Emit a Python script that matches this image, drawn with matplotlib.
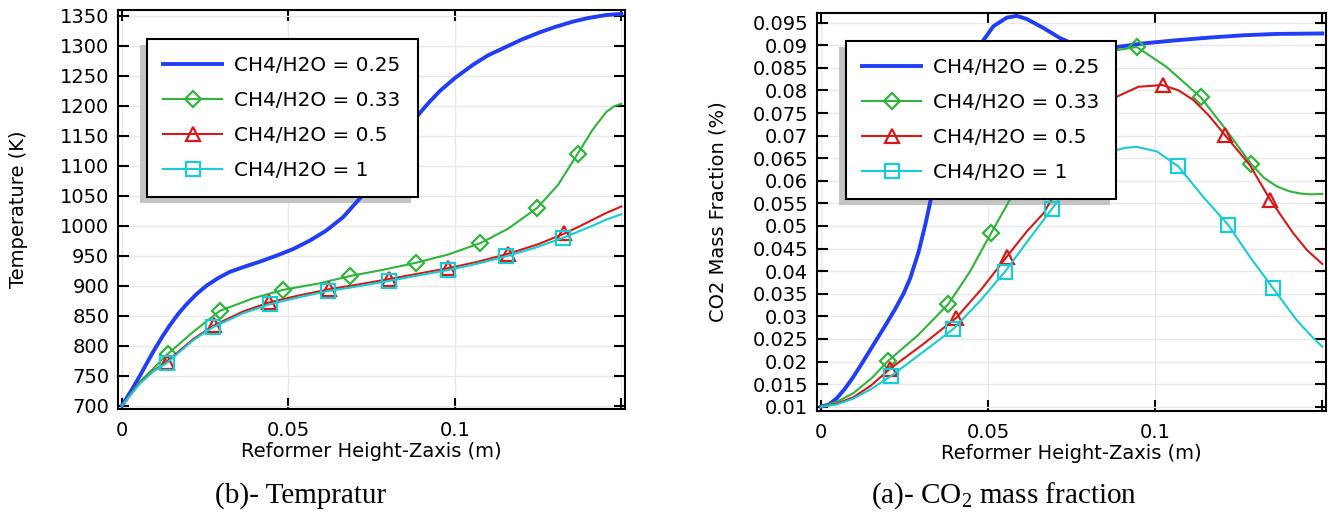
import matplotlib
matplotlib.use("Agg")
import matplotlib.pyplot as plt
from matplotlib.lines import Line2D
from matplotlib.patches import Rectangle

plt.rcParams["font.family"] = "DejaVu Sans"
plt.rcParams["font.size"] = 14
plt.rcParams["mathtext.fontset"] = "custom"
plt.rcParams["mathtext.rm"] = "Liberation Serif"

labels = ["CH4/H2O = 0.25", "CH4/H2O = 0.33", "CH4/H2O = 0.5", "CH4/H2O = 1"]
colors = ["#1f3ef5", "#2fb53b", "#d81818", "#17cdd3"]
markers = [None, "D", "^", "s"]
msizes = [0, 8, 10, 10.5]
lwidths = [2.8, 1.5, 1.5, 1.5]

# ---- temperature along the reformer (K) ----
t_x_025 = [0, 0.003, 0.0054, 0.0075, 0.0094, 0.012, 0.0144, 0.0169, 0.0194, 0.0224, 0.0254,
           0.029, 0.0324, 0.037, 0.0414, 0.0464, 0.0514, 0.0564, 0.0614, 0.0664, 0.0714,
           0.076, 0.081, 0.0855, 0.0889, 0.092, 0.0954, 0.1, 0.1054, 0.11, 0.1154, 0.12,
           0.1254, 0.13, 0.1354, 0.14, 0.1454, 0.15]
t_y_025 = [700, 727, 750, 771, 790, 814, 834, 853, 869, 886, 900,
           913, 923, 932, 940, 950, 961, 975, 992, 1014, 1045,
           1080, 1120, 1155, 1184, 1204, 1224, 1246, 1268, 1284, 1298, 1310,
           1322, 1331, 1340, 1346, 1351, 1353]

t_x_033 = [0, 0.0054, 0.0094, 0.0137, 0.0214, 0.0294, 0.0394, 0.0484, 0.0594, 0.0684, 0.078,
           0.0882, 0.098, 0.1077, 0.116, 0.1248, 0.131, 0.1369, 0.1414, 0.1454, 0.1478, 0.15]
t_y_033 = [700, 740, 762, 786, 823, 858, 879, 893, 904, 916, 926,
           938, 952, 971, 995, 1030, 1068, 1120, 1160, 1189, 1199, 1203]
t_m_033 = [0.0137, 0.0294, 0.0484, 0.0684, 0.0882, 0.1077, 0.1248, 0.1369]

t_x_05 = [0, 0.0054, 0.0094, 0.0134, 0.0214, 0.0277, 0.0364, 0.0442, 0.0534, 0.0622, 0.071,
          0.0802, 0.089, 0.0979, 0.107, 0.1159, 0.125, 0.1329, 0.1375, 0.1414, 0.1454, 0.15]
t_y_05 = [700, 738, 758, 773, 811, 834, 857, 872, 884, 894, 902,
          911, 920, 929, 940, 953, 969, 987, 999, 1010, 1021, 1032]
t_m_05 = [0.0134, 0.0277, 0.0442, 0.0622, 0.0802, 0.0979, 0.1159, 0.1329]

t_x_1 = [0, 0.0054, 0.0094, 0.0134, 0.0214, 0.0274, 0.0364, 0.0444, 0.0534, 0.0619, 0.071,
         0.0802, 0.089, 0.0979, 0.107, 0.1154, 0.124, 0.1326, 0.137, 0.1414, 0.1454, 0.15]
t_y_1 = [700, 737, 757, 771, 809, 831, 854, 869, 881, 891, 899,
         908, 917, 926, 937, 949, 963, 980, 990, 1000, 1010, 1019]
t_m_1 = [0.0134, 0.0274, 0.0444, 0.0619, 0.0802, 0.0979, 0.1154, 0.1326]

# ---- CO2 mass fraction along the reformer ----
c_x_025 = [0, 0.0024, 0.0048, 0.0072, 0.0097, 0.0122, 0.0147, 0.0172, 0.0197, 0.0222, 0.0247,
           0.0267, 0.0292, 0.0312, 0.0327, 0.036, 0.040, 0.044, 0.0486, 0.0516, 0.0556,
           0.0586, 0.0616, 0.0666, 0.0715, 0.0745, 0.080, 0.085, 0.0885, 0.0964, 0.1064,
           0.1164, 0.1263, 0.1363, 0.15]
c_y_025 = [0.01, 0.0105, 0.0119, 0.0140, 0.0166, 0.0195, 0.0225, 0.0255, 0.0285, 0.0316, 0.0350,
           0.0384, 0.0442, 0.0502, 0.0553, 0.065, 0.0765, 0.0850, 0.0911, 0.0942, 0.0961,
           0.0965, 0.0958, 0.0938, 0.0916, 0.0906, 0.0898, 0.0896, 0.0896, 0.0904, 0.0911,
           0.0917, 0.0922, 0.0925, 0.0926]

c_x_033 = [0, 0.0048, 0.0097, 0.015, 0.0202, 0.029, 0.0381, 0.0445, 0.0509, 0.0566, 0.065,
           0.075, 0.085, 0.0945, 0.1034, 0.1136, 0.1213, 0.1286, 0.1325, 0.1363, 0.140,
           0.1433, 0.1465, 0.15]
c_y_033 = [0.01, 0.0111, 0.013, 0.0162, 0.0202, 0.0258, 0.0327, 0.0398, 0.0484, 0.0559, 0.0700,
           0.0820, 0.0885, 0.0896, 0.0852, 0.0785, 0.0712, 0.0638, 0.0607, 0.0588, 0.0577,
           0.0572, 0.0570, 0.0571]
c_m_033 = [0.0202, 0.0381, 0.0509, 0.0945, 0.1136, 0.1286]

c_x_05 = [0, 0.0048, 0.0097, 0.015, 0.0207, 0.0305, 0.0404, 0.048, 0.0556, 0.0616, 0.0666,
          0.075, 0.08, 0.085, 0.0885, 0.095, 0.1022, 0.107, 0.1114, 0.116, 0.1209, 0.1283,
          0.1345, 0.1413, 0.1455, 0.15]
c_y_05 = [0.01, 0.0107, 0.0121, 0.0147, 0.0184, 0.0238, 0.0296, 0.0360, 0.0432, 0.0488, 0.0528,
          0.0635, 0.0705, 0.0755, 0.0786, 0.0808, 0.0812, 0.0800, 0.0779, 0.0745, 0.0701, 0.0635,
          0.0557, 0.0484, 0.0446, 0.0416]
c_m_05 = [0.0207, 0.0404, 0.0556, 0.1022, 0.1209, 0.1345]

c_x_1 = [0, 0.0048, 0.0097, 0.015, 0.021, 0.030, 0.0396, 0.0475, 0.0551, 0.062, 0.069, 0.075,
         0.08, 0.085, 0.0885, 0.091, 0.0945, 0.1005, 0.1069, 0.1143, 0.1219, 0.1283, 0.1353,
         0.1423, 0.1465, 0.15]
c_y_1 = [0.01, 0.0105, 0.0118, 0.0139, 0.0168, 0.0218, 0.0272, 0.0333, 0.0399, 0.0468, 0.0537, 0.0595,
         0.0635, 0.0660, 0.0668, 0.0673, 0.0675, 0.0665, 0.0632, 0.0565, 0.0502, 0.0432, 0.0362,
         0.0292, 0.0258, 0.0233]
c_m_1 = [0.021, 0.0396, 0.0551, 0.069, 0.1069, 0.1219, 0.1353]

x_ticks = [0, 0.05, 0.1, 0.15]
x_ticklabels = ["0", "0.05", "0.1", ""]
t_ticks = list(range(700, 1351, 50))
c_ticks = [round(0.01 + 0.005 * i, 3) for i in range(18)]


def draw_panel(ax, series, ylim, yticks, ylabel, legend_anchor):
    for (x, y, mx), color, mk, ms, lw in zip(series, colors, markers, msizes, lwidths):
        idx = [x.index(v) for v in mx]
        ax.plot(x, y, color=color, lw=lw, marker=mk, ms=ms, mfc="none", mec=color,
                mew=1.6, markevery=idx if idx else None, zorder=3)

    ax.set_xlim(-0.0011, 0.1511)
    ax.set_ylim(*ylim)
    ax.set_xticks(x_ticks)
    ax.set_xticklabels(x_ticklabels)
    ax.set_yticks(yticks)
    ax.set_yticklabels([f"{v:g}" for v in yticks])
    ax.set_axisbelow(True)
    ax.grid(True, color="#e8e8e8", lw=1.0)
    ax.tick_params(direction="in", length=8, width=1.5, top=True, right=True, labelsize=14)
    ax.tick_params(axis="x", pad=9)
    ax.tick_params(axis="y", pad=6.5)
    for s in ax.spines.values():
        s.set_linewidth(1.5)
    ax.set_xlabel("Reformer Height-Zaxis (m)", fontsize=14, labelpad=1)
    ax.set_ylabel(ylabel, fontsize=14)

    handles = [Line2D([], [], color=c, lw=lw, marker=mk, ms=ms, mfc="none", mec=c, mew=1.6)
               for c, mk, ms, lw in zip(colors, markers, msizes, lwidths)]
    leg = ax.legend(handles, labels, loc="upper left", bbox_to_anchor=legend_anchor,
                    borderaxespad=0, fancybox=False, framealpha=1, edgecolor="black",
                    handlelength=2.93, handletextpad=0.62, labelspacing=0.8,
                    borderpad=0.84, fontsize=14.4, numpoints=1)
    leg.get_frame().set_linewidth(1.5)
    leg.set_zorder(5)
    return leg


fig = plt.figure(figsize=(13.38, 5.14), dpi=100)
ax1 = fig.add_axes([0.0884, 0.2043, 0.3787, 0.7763])
ax2 = fig.add_axes([0.6108, 0.2004, 0.3802, 0.7749])

leg1 = draw_panel(ax1,
                  [(t_x_025, t_y_025, []), (t_x_033, t_y_033, t_m_033),
                   (t_x_05, t_y_05, t_m_05), (t_x_1, t_y_1, t_m_1)],
                  (694.5, 1359.5), t_ticks, "Temperature (K)", (0.056, 0.927))
leg2 = draw_panel(ax2,
                  [(c_x_025, c_y_025, []), (c_x_033, c_y_033, c_m_033),
                   (c_x_05, c_y_05, c_m_05), (c_x_1, c_y_1, c_m_1)],
                  (0.00905, 0.0972), c_ticks, "CO2 Mass Fraction (%)", (0.0558, 0.929))
ax1.yaxis.set_label_coords(-0.178, 0.5)
ax2.yaxis.set_label_coords(-0.176, 0.5)

# grey drop shadow offset to the lower left of each legend box
fig.canvas.draw()
for ax, leg in [(ax1, leg1), (ax2, leg2)]:
    bb = leg.get_frame().get_window_extent()
    inv = ax.transAxes.inverted()
    x0, y0 = inv.transform((bb.x0 - 6.5, bb.y0 - 6))
    x1, y1 = inv.transform((bb.x1 - 6.5, bb.y1 - 6))
    ax.add_patch(Rectangle((x0, y0), x1 - x0, y1 - y0, transform=ax.transAxes,
                           facecolor="#c4c4c4", edgecolor="none", zorder=2, clip_on=False))

fig.text(301 / 1338, 1 - 496 / 514, "(b)- Tempratur", family="Liberation Serif",
         fontsize=21, ha="center", va="center")
fig.text(1004 / 1338, 1 - 496 / 514, r"(a)- CO$_{\mathrm{2}}$ mass fraction",
         family="Liberation Serif", fontsize=21, ha="center", va="center")

fig.savefig("out.png", dpi=100)
plt.close(fig)
